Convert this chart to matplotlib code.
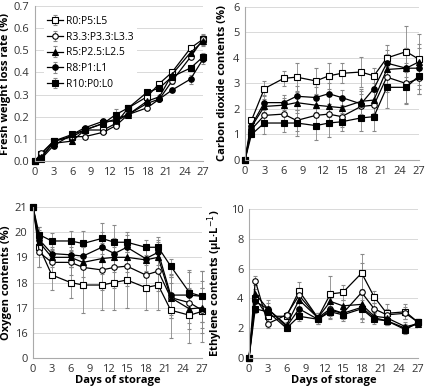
import numpy as np
import matplotlib
matplotlib.use("Agg")
import matplotlib.pyplot as plt

plt.rcParams['font.family'] = ['Open Sans', 'DejaVu Sans']

days = [0, 1, 3, 6, 8, 11, 13, 15, 18, 20, 22, 25, 27]
labels = ["R0:P5:L5", "R3.3:P3.3:L3.3", "R5:P2.5:L2.5", "R8:P1:L1", "R10:P0:L0"]
markers = ["s", "o", "^", "o", "s"]
filled = [False, False, True, True, True]

# fresh weight loss rate (%)
weight = [
    [0, 0.03, 0.09, 0.11, 0.14, 0.14, 0.17, 0.24, 0.29, 0.35, 0.40, 0.51, 0.55],
    [0, 0.035, 0.09, 0.11, 0.11, 0.13, 0.16, 0.21, 0.24, 0.28, 0.36, 0.47, 0.55],
    [0, 0.02, 0.08, 0.09, 0.14, 0.17, 0.19, 0.21, 0.27, 0.29, 0.39, 0.49, 0.54],
    [0, 0.01, 0.07, 0.12, 0.15, 0.18, 0.18, 0.21, 0.26, 0.28, 0.32, 0.37, 0.46],
    [0, 0.01, 0.09, 0.12, 0.14, 0.17, 0.21, 0.24, 0.31, 0.33, 0.38, 0.42, 0.47],
]
weight_err = [
    [0, 0.005, 0.01, 0.01, 0.01, 0.01, 0.01, 0.01, 0.01, 0.01, 0.01, 0.01, 0.025],
    [0, 0.005, 0.01, 0.01, 0.01, 0.01, 0.01, 0.01, 0.01, 0.01, 0.01, 0.01, 0.02],
    [0, 0.005, 0.01, 0.01, 0.01, 0.01, 0.01, 0.01, 0.01, 0.01, 0.01, 0.015, 0.02],
    [0, 0.005, 0.01, 0.01, 0.01, 0.01, 0.01, 0.01, 0.01, 0.01, 0.01, 0.02, 0.02],
    [0, 0.005, 0.01, 0.01, 0.01, 0.02, 0.025, 0.01, 0.01, 0.01, 0.01, 0.01, 0.02],
]

# carbon dioxide contents (%)
co2 = [
    [0, 1.55, 2.8, 3.2, 3.25, 3.1, 3.3, 3.4, 3.45, 3.3, 4.0, 4.25, 3.95],
    [0, 1.2, 1.75, 1.8, 1.55, 1.75, 1.8, 1.7, 2.1, 2.15, 3.25, 3.0, 3.2],
    [0, 1.3, 2.1, 2.15, 2.25, 2.15, 2.1, 2.05, 2.3, 2.35, 3.55, 3.6, 3.85],
    [0, 1.35, 2.25, 2.25, 2.5, 2.45, 2.6, 2.45, 2.2, 2.8, 3.8, 3.6, 3.6],
    [0, 1.0, 1.45, 1.45, 1.45, 1.35, 1.45, 1.5, 1.65, 1.7, 2.85, 2.85, 3.3],
]
co2_err = [
    [0, 0.1, 0.3, 0.3, 0.55, 0.5, 0.5, 0.4, 0.6, 0.3, 0.5, 1.0, 1.0],
    [0, 0.1, 0.3, 0.3, 0.4, 0.4, 0.4, 0.4, 0.5, 0.5, 0.6, 0.8, 0.6],
    [0, 0.1, 0.3, 0.3, 0.4, 0.4, 0.4, 0.4, 0.5, 0.5, 0.6, 0.8, 0.7],
    [0, 0.1, 0.3, 0.3, 0.4, 0.4, 0.4, 0.3, 0.5, 0.5, 0.5, 0.8, 0.8],
    [0, 0.1, 0.45, 0.35, 0.5, 0.55, 0.55, 0.35, 0.5, 0.55, 0.8, 0.6, 0.7],
]

# oxygen contents (%)
oxygen = [
    [21, 19.4, 18.3, 18.0, 17.9, 17.9, 18.0, 18.1, 17.8, 17.9, 16.9, 16.7, 16.85],
    [21, 19.2, 18.8, 18.8, 18.6, 18.5, 18.6, 18.65, 18.3, 18.45, 17.4, 17.2, 16.9],
    [21, 19.6, 19.0, 19.0, 18.8, 18.95, 19.0, 19.0, 18.9, 19.0, 17.4, 16.95, 17.0],
    [21, 19.7, 19.15, 19.1, 19.05, 19.4, 19.15, 19.4, 18.95, 19.2, 17.5, 17.5, 17.45],
    [21, 19.9, 19.65, 19.65, 19.55, 19.75, 19.6, 19.6, 19.4, 19.4, 18.65, 17.6, 17.45],
]
oxygen_err = [
    [0, 0.8, 0.6, 0.6, 1.1, 1.0, 1.1, 1.1, 0.9, 1.0, 1.1, 1.1, 1.2],
    [0, 0.6, 0.5, 0.5, 0.8, 0.8, 0.8, 0.8, 0.6, 0.8, 0.8, 0.8, 0.9],
    [0, 0.4, 0.4, 0.4, 0.6, 0.6, 0.6, 0.6, 0.5, 0.6, 0.8, 0.8, 0.8],
    [0, 0.4, 0.4, 0.5, 0.5, 0.6, 0.6, 0.5, 0.5, 0.5, 0.8, 0.9, 1.0],
    [0, 0.3, 0.3, 0.4, 0.5, 0.6, 0.7, 0.4, 0.3, 0.4, 0.3, 0.9, 1.0],
]

# ethylene contents (uL/L)
ethylene = [
    [0, 4.0, 2.8, 2.8, 4.5, 2.7, 4.3, 4.4, 5.7, 4.1, 3.0, 3.1, 2.4],
    [0, 5.2, 2.3, 2.9, 4.2, 2.7, 3.3, 3.0, 4.4, 3.3, 2.9, 3.0, 2.4],
    [0, 4.3, 3.3, 2.2, 3.9, 2.7, 3.8, 3.5, 3.6, 2.8, 2.7, 2.1, 2.3],
    [0, 3.8, 3.3, 2.1, 3.3, 2.6, 3.2, 3.0, 3.4, 2.7, 2.5, 2.0, 2.3],
    [0, 3.3, 3.1, 2.0, 2.8, 2.6, 3.1, 2.9, 3.3, 2.6, 2.5, 1.9, 2.4],
]
ethylene_err = [
    [0, 0.3, 0.4, 0.2, 0.6, 0.3, 1.2, 0.5, 1.3, 0.4, 0.6, 0.5, 0.2],
    [0, 0.3, 0.3, 0.2, 0.5, 0.3, 0.7, 0.5, 2.0, 0.4, 0.4, 0.4, 0.2],
    [0, 0.3, 0.6, 0.2, 0.5, 0.3, 0.5, 0.4, 1.0, 0.3, 0.3, 0.3, 0.2],
    [0, 0.3, 0.4, 0.2, 0.4, 0.3, 0.4, 0.4, 0.8, 0.3, 0.3, 0.3, 0.2],
    [0, 0.3, 0.3, 0.2, 0.3, 0.3, 0.4, 0.3, 0.6, 0.3, 0.3, 0.3, 0.2],
]

fig = plt.figure(figsize=(4.25, 3.87), dpi=100)
W, H = 425, 387
def add_axes(x0, x1, ytop, ybot):
    return fig.add_axes([x0 / W, 1 - ybot / H, (x1 - x0) / W, (ybot - ytop) / H])

ax1 = add_axes(35, 203, 6, 161)
ax2 = add_axes(245, 419, 7, 160)
ax3 = add_axes(33, 202, 207, 358)
ax4 = add_axes(249, 418, 209, 358)

def draw(ax, data, err):
    for i in range(5):
        line, caps, bars = ax.errorbar(days, data[i], yerr=err[i], color="black", lw=0.9,
                    marker=markers[i], ms=4.2 if markers[i] == "s" else 4,
                    mfc="white" if not filled[i] else "black", mec="black", mew=0.8,
                    ecolor="#888888", elinewidth=0.6, capsize=1.5, capthick=0.6,
                    label=labels[i])
        line.set_clip_on(False)
        for a in list(caps) + list(bars):
            a.set_clip_on(False)
    ax.set_xlim(0, 27)
    ax.set_xticks([0, 3, 6, 9, 12, 15, 18, 21, 24, 27])
    ax.grid(axis="y", color="#d9d9d9", lw=0.7)
    ax.set_axisbelow(True)
    for s in ["top", "right"]:
        ax.spines[s].set_visible(False)
    for s in ["left", "bottom"]:
        ax.spines[s].set_color("#aaaaaa")
        ax.spines[s].set_linewidth(0.8)
    ax.tick_params(length=0, labelsize=8, colors="#333333", pad=4)

draw(ax1, weight, weight_err)
ax1.set_ylim(0, 0.7)
ax1.set_yticks(np.arange(0, 0.71, 0.1))
ax1.set_yticklabels(["0.0", "0.1", "0.2", "0.3", "0.4", "0.5", "0.6", "0.7"])
ax1.set_ylabel("Fresh weight loss rate (%)", fontsize=8, fontweight="bold", labelpad=2)
leg = ax1.legend(loc="upper left", fontsize=7.5, frameon=True, fancybox=False,
                 edgecolor="none", facecolor="white", framealpha=1, borderpad=0.3,
                 handlelength=1.6, handletextpad=0.3,
                 labelspacing=0.45, bbox_to_anchor=(0.02, 0.99))

draw(ax2, co2, co2_err)
ax2.set_ylim(0, 6)
ax2.set_yticks(range(0, 7))
ax2.set_ylabel("Carbon dioxide contents (%)", fontsize=8, fontweight="bold", labelpad=4)

draw(ax3, oxygen, oxygen_err)
ax3.set_ylim(15, 21)
ax3.set_yticks(range(15, 22))
ax3.set_yticklabels(["0", "16", "17", "18", "19", "20", "21"])
ax3.set_ylabel("Oxygen contents (%)", fontsize=8, fontweight="bold", labelpad=2)
ax3.set_xlabel("Days of storage", fontsize=8, fontweight="bold", labelpad=0)

draw(ax4, ethylene, ethylene_err)
ax4.set_ylim(0, 10)
ax4.set_yticks(range(0, 11, 2))
ax4.set_ylabel("Ethylene contents (\u03bcL\u00b7L$^{-1}$)", fontsize=8, fontweight="bold", labelpad=4)
ax4.set_xlabel("Days of storage", fontsize=8, fontweight="bold", labelpad=0)

fig.savefig("out.png", dpi=100)
